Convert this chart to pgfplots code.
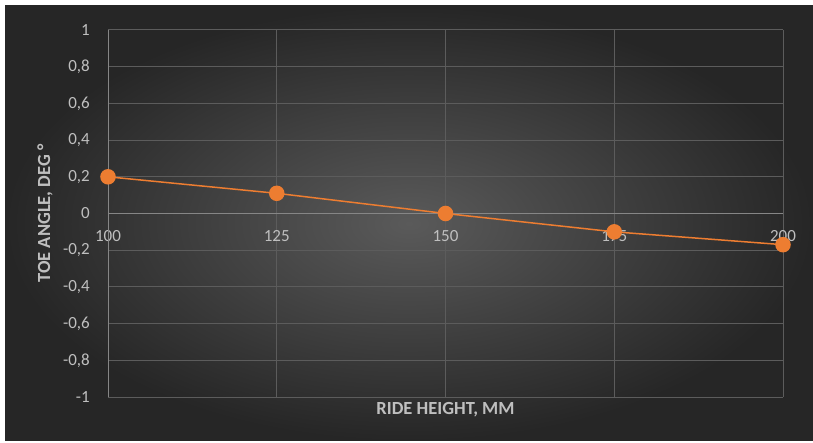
\documentclass[border=0pt]{standalone}
\usepackage{pgfplots}
\pgfplotsset{compat=1.18}
\usepackage{fontspec}
\setmainfont{Carlito}
\definecolor{bgin}{RGB}{90,90,90}
\definecolor{bgout}{RGB}{38,38,38}
\definecolor{gridc}{RGB}{92,92,92}
\definecolor{axisc}{RGB}{134,134,134}
\definecolor{textc}{RGB}{191,191,191}
\definecolor{xlorange}{RGB}{237,125,49}

\begin{document}
\begin{tikzpicture}
\fill[white] (0,0) rectangle (813bp,443bp);
\shade[inner color=bgin, outer color=bgout] (5bp,2bp) rectangle (813bp,437bp);
\begin{axis}[
    at={(108bp,46bp)}, anchor=south west,
    scale only axis, width=675bp, height=367bp,
    xmin=100, xmax=200, ymin=-1, ymax=1,
    xtick={100,125,150,175,200},
    ytick={-1,-0.8,-0.6,-0.4,-0.2,0,0.2,0.4,0.6,0.8,1},
    grid=major,
    major grid style={draw=gridc, line width=1bp},
    axis line style={draw=none},
    major tick length=0pt,
    clip=false,
    /pgf/number format/use comma,
    /pgf/number format/assume math mode=true,
    tick label style={font=\fontsize{17bp}{20bp}\selectfont, text=textc},
    yticklabel style={anchor=east, inner sep=0pt, xshift=-18bp},
    xticklabel style={anchor=center, inner sep=0pt, yshift=161bp},
    xlabel={RIDE HEIGHT, MM},
    ylabel={TOE ANGLE, DEG °},
    label style={font=\bfseries\fontsize{18.5bp}{22bp}\selectfont, text=textc},
    xlabel style={at={(axis description cs:0.5,-0.0354)}, anchor=center},
    ylabel style={at={(axis description cs:-0.0933,0.5)}, anchor=center},
]
\draw[axisc, line width=1bp] (axis cs:100,0) -- (axis cs:200,0);
\draw[axisc, line width=1bp] (axis cs:100,-1) -- (axis cs:100,1);

\addplot[xlorange, line width=1.5bp, mark=*, mark size=7bp,
    mark options={fill=xlorange, draw=xlorange}]
    coordinates {
        (100, 0.2)
        (125, 0.11)
        (150, 0)
        (175, -0.1)
        (200, -0.17)
    };
\end{axis}
\end{tikzpicture}
\end{document}
